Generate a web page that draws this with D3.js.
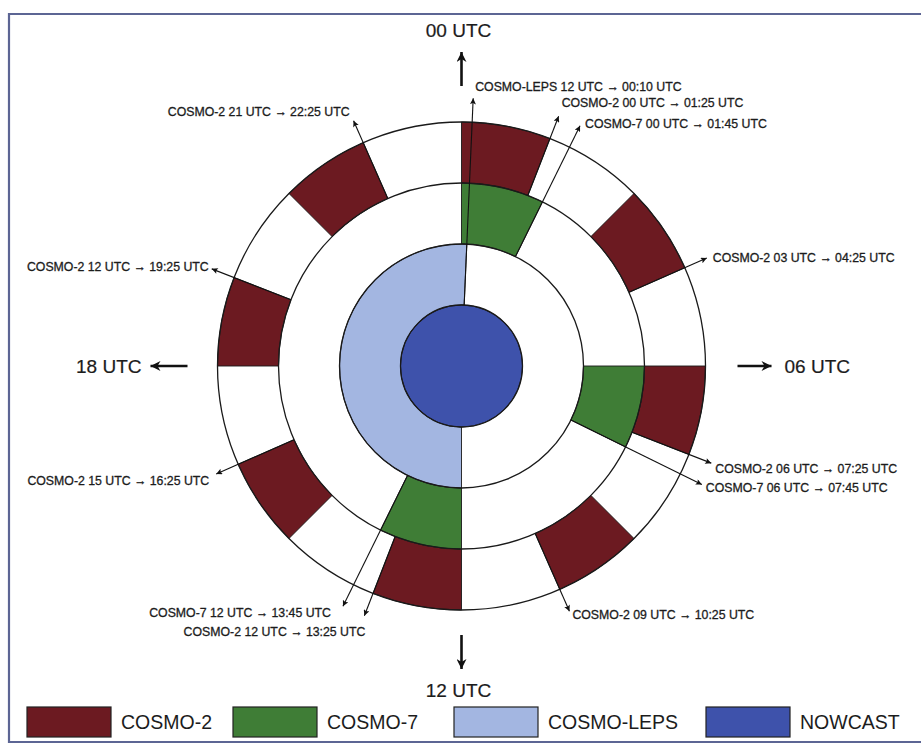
<!DOCTYPE html>
<html><head><meta charset="utf-8">
<script src="https://cdn.jsdelivr.net/npm/d3@7"></script>
<style>body{margin:0;background:#fff}svg{display:block}text{font-family:"Liberation Sans",Arial,sans-serif;fill:#1c1c1c}</style>
</head><body><svg id="c" width="921" height="744"></svg>
<script>
// ---- data ----
const cosmo2Start = ["00:00","03:00","06:00","09:00","12:00","15:00","18:00","21:00"];
const cosmo2End   = ["01:25","04:25","07:25","10:25","13:25","16:25","19:25","22:25"];
const cosmo7Start = ["00:00","06:00","12:00"];
const cosmo7End   = ["01:45","07:45","13:45"];
const lepsStart   = ["12:00"];
const lepsEnd     = ["24:10"];
const nowcastStart = ["00:00"];
const nowcastEnd   = ["24:00"];

const annotationModel = ["COSMO-LEPS","COSMO-2","COSMO-7","COSMO-2","COSMO-2","COSMO-7","COSMO-2","COSMO-2","COSMO-7","COSMO-2","COSMO-2","COSMO-2"];
const annotationTime  = ["00:10","01:25","01:45","04:25","07:25","07:45","10:25","13:25","13:45","16:25","19:25","22:25"];
const annotationText  = [
  "COSMO-LEPS 12 UTC \u2192 00:10 UTC",
  "COSMO-2 00 UTC \u2192 01:25 UTC",
  "COSMO-7 00 UTC \u2192 01:45 UTC",
  "COSMO-2 03 UTC \u2192 04:25 UTC",
  "COSMO-2 06 UTC \u2192 07:25 UTC",
  "COSMO-7 06 UTC \u2192 07:45 UTC",
  "COSMO-2 09 UTC \u2192 10:25 UTC",
  "COSMO-2 12 UTC \u2192 13:25 UTC",
  "COSMO-7 12 UTC \u2192 13:45 UTC",
  "COSMO-2 15 UTC \u2192 16:25 UTC",
  "COSMO-2 12 UTC \u2192 19:25 UTC",
  "COSMO-2 21 UTC \u2192 22:25 UTC"
];
const hourLabels = ["00 UTC","06 UTC","12 UTC","18 UTC"];
const hourTimes  = ["00:00","06:00","12:00","18:00"];
const legendLabels = ["COSMO-2","COSMO-7","COSMO-LEPS","NOWCAST"];

// ---- layout / style ----
const W = 921, H = 744, cx = 461.5, cy = 366;
const colors = {"COSMO-2":"#6c1a21","COSMO-7":"#3f7d36","COSMO-LEPS":"#a3b6e1","NOWCAST":"#3e52ab"};
const rings = {"NOWCAST":[0,61],"COSMO-LEPS":[61,122],"COSMO-7":[122,183],"COSMO-2":[183,244]};
// label offsets relative to arrow tip: [dx, dy, anchor]
const labelOffsets = [
  [2,-7,"start"],[3,-9,"start"],[5,2,"start"],[6,4,"start"],[4,10,"start"],[4,7,"start"],
  [3,8,"start"],[1,20,"end"],[-12,11,"end"],[-7,11,"end"],[-3,2,"end"],[-4,-5,"end"]
];
const bigArrows = [ // [r tail, r tip]
  [280,314],[276,310],[269,303],[274,311]
];
const bigLabelR = [329, 323, 331, 320];

const parseT = s => { const [h,m] = s.split(":").map(Number); return h + m/60; };
const angle = d3.scaleLinear().domain([0,24]).range([0, 2*Math.PI]);
const pt = (t, r) => [cx + r*Math.sin(angle(t)), cy - r*Math.cos(angle(t))];

const svg = d3.select("#c");
const defs = svg.append("defs");
defs.append("marker").attr("id","ah").attr("viewBox","0 0 10 10").attr("refX",10).attr("refY",5)
  .attr("markerWidth",9).attr("markerHeight",6).attr("markerUnits","userSpaceOnUse").attr("orient","auto")
  .append("path").attr("d","M0,0L10,5L0,10L2,5Z").attr("fill","#111");
defs.append("marker").attr("id","bh").attr("viewBox","0 0 10 10").attr("refX",10).attr("refY",5)
  .attr("markerWidth",17).attr("markerHeight",10).attr("markerUnits","userSpaceOnUse").attr("orient","auto")
  .append("path").attr("d","M0,0L10,5L0,10L3,5Z").attr("fill","#111");

// frame
svg.append("path").attr("d",`M${W+5},14 L9,14 L9,742 L${W+5},742`).attr("fill","none")
  .attr("stroke","#5c6594").attr("stroke-width",2.2);

const g = svg.append("g").attr("transform",`translate(${cx},${cy})`);
const arc = d3.arc();

[244,183,122].forEach(r => g.append("circle").attr("r",r).attr("fill","#fff"));

function drawSegments(model, starts, ends){
  const [ri, ro] = rings[model];
  g.append("g").selectAll("path").data(starts.map((s,i)=>({s:parseT(s), e:parseT(ends[i])})))
    .join("path")
    .attr("d", d => arc({innerRadius:ri, outerRadius:ro, startAngle:angle(d.s), endAngle:angle(d.e)}))
    .attr("fill", colors[model]).attr("stroke","#1a1a1a").attr("stroke-width",0.9);
}
drawSegments("COSMO-2", cosmo2Start, cosmo2End);
drawSegments("COSMO-7", cosmo7Start, cosmo7End);
drawSegments("COSMO-LEPS", lepsStart, lepsEnd);

[244,183,122].forEach(r => g.append("circle").attr("r",r).attr("fill","none").attr("stroke","#1a1a1a").attr("stroke-width",1.3));
drawSegments("NOWCAST", nowcastStart, nowcastEnd);
g.append("circle").attr("r",61).attr("fill","none").attr("stroke","#1a1a1a").attr("stroke-width",1.3);

// annotation arrows
const tipR = 268;
annotationText.forEach((txt,i) => {
  const t = parseT(annotationTime[i]);
  const r0 = rings[annotationModel[i]][0];
  const [x0,y0] = pt(t, r0), [x1,y1] = pt(t, tipR);
  svg.append("line").attr("x1",x0).attr("y1",y0).attr("x2",x1).attr("y2",y1)
    .attr("stroke","#111").attr("stroke-width",1.1).attr("marker-end","url(#ah)");
  const [dx,dy,anc] = labelOffsets[i];
  svg.append("text").attr("x",x1+dx).attr("y",y1+dy).attr("text-anchor",anc)
    .attr("font-size",12.3).attr("stroke","#1c1c1c").attr("stroke-width",0.3).text(txt);
});

// big hour arrows and labels
hourLabels.forEach((lab,i) => {
  const t = parseT(hourTimes[i]);
  const [x0,y0] = pt(t, bigArrows[i][0]), [x1,y1] = pt(t, bigArrows[i][1]);
  svg.append("line").attr("x1",x0).attr("y1",y0).attr("x2",x1).attr("y2",y1)
    .attr("stroke","#111").attr("stroke-width",2.6).attr("marker-end","url(#bh)");
  const [lx,ly] = pt(t, bigLabelR[i]);
  const anc = i===1 ? "start" : i===3 ? "end" : "middle";
  const yOff = i===0 ? 0 : i===2 ? 0 : 6.5;
  svg.append("text").attr("x", i%2===0 ? lx-3 : lx).attr("y", ly + yOff).attr("text-anchor",anc)
    .attr("font-size",19).attr("stroke","#1c1c1c").attr("stroke-width",0.2).text(lab);
});

// legend
const legendX = [27,233,454,706];
const lg = svg.append("g");
legendLabels.forEach((lab,i) => {
  lg.append("rect").attr("x",legendX[i]).attr("y",707).attr("width",84).attr("height",30)
    .attr("fill",colors[lab]).attr("stroke","#222").attr("stroke-width",1.2);
  lg.append("text").attr("x",legendX[i]+94).attr("y",729).attr("font-size",19.5).text(lab);
});
</script></body></html>
